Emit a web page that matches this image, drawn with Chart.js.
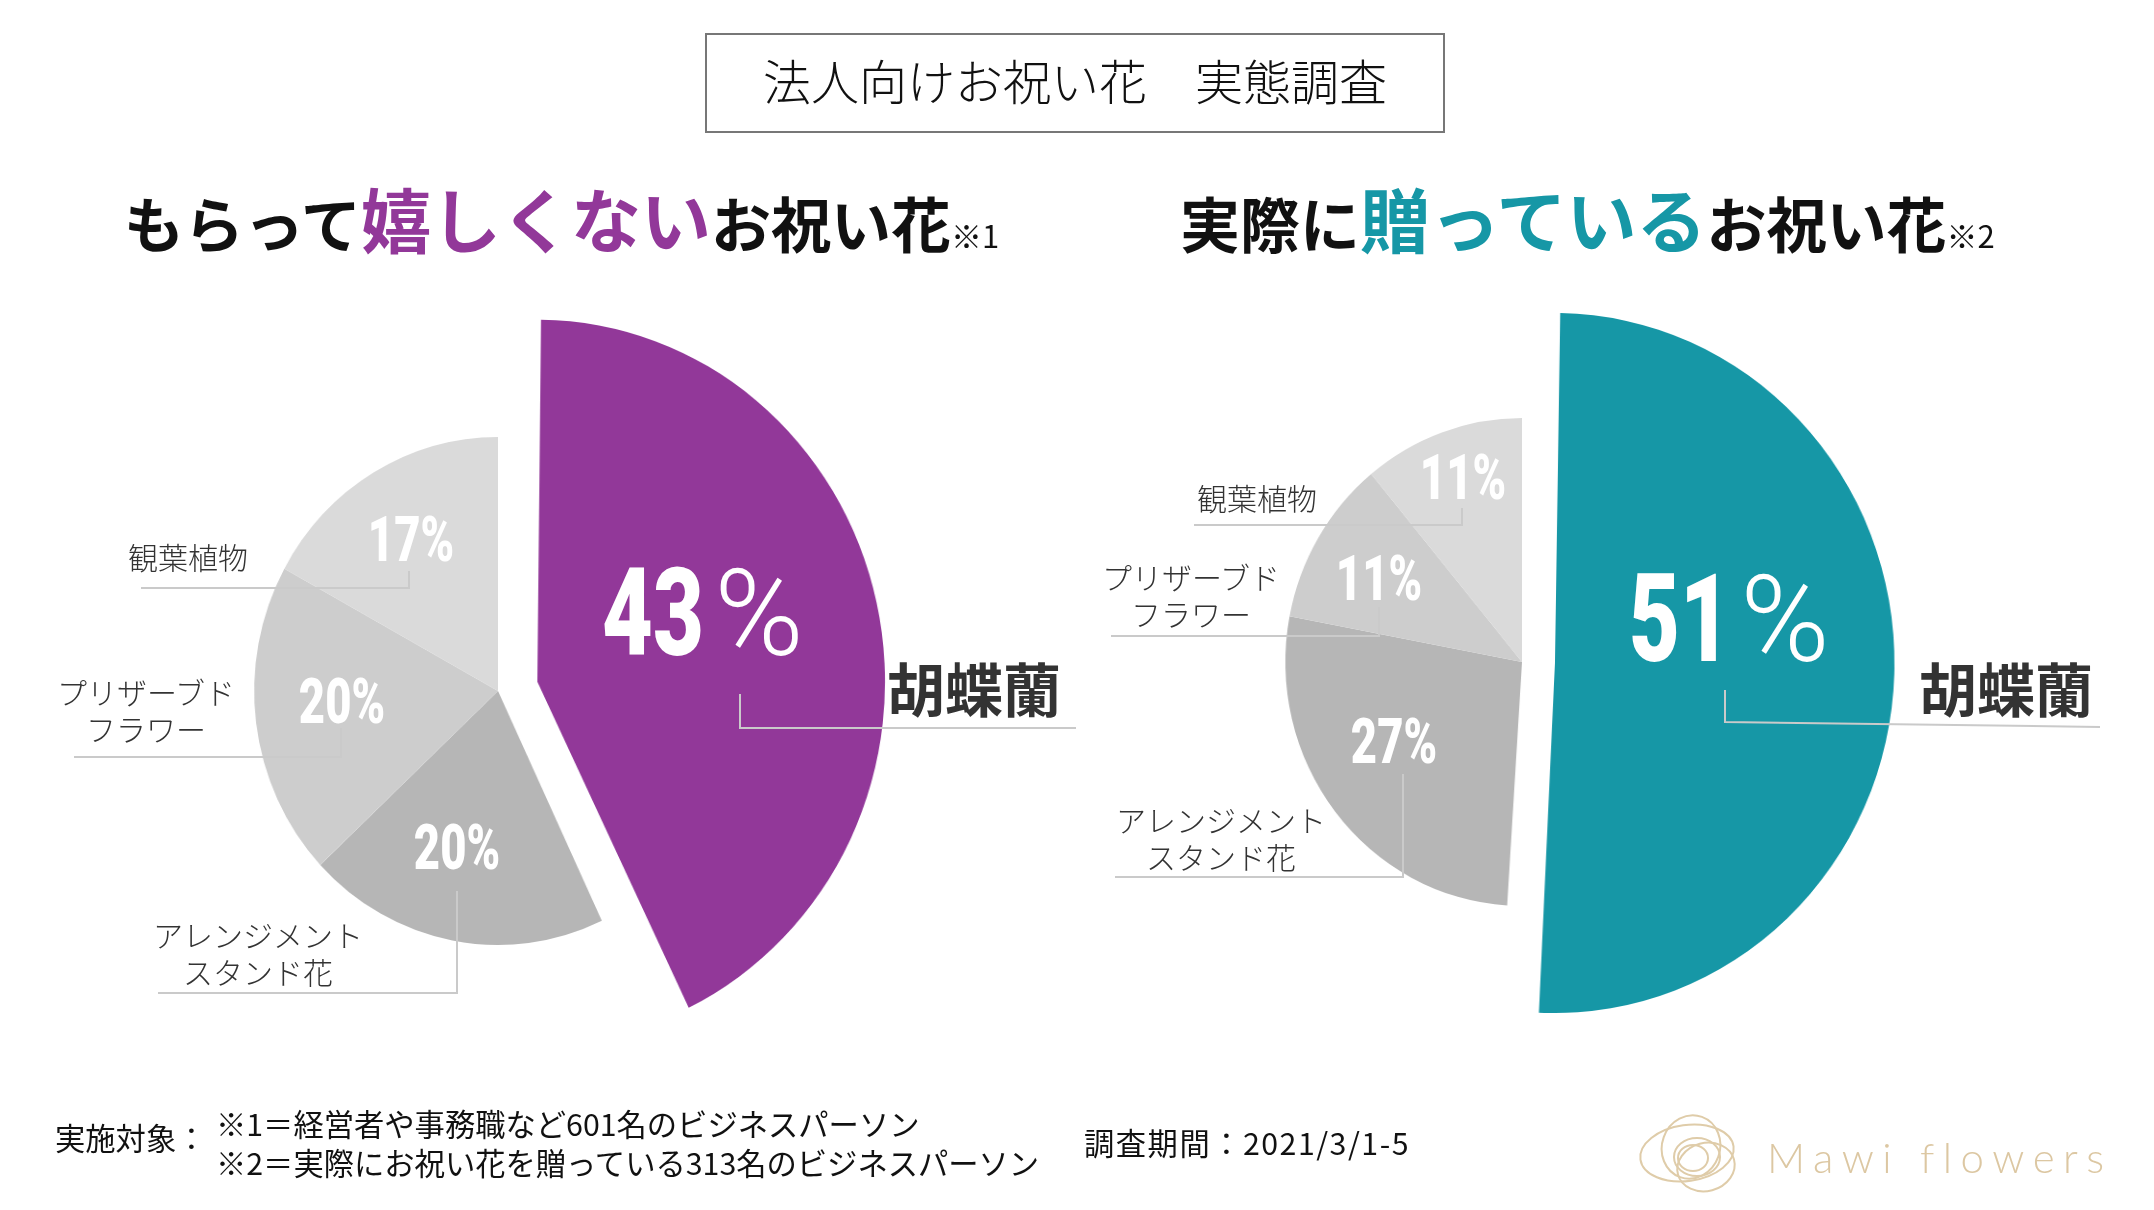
<!DOCTYPE html>
<html lang="ja">
<head>
<meta charset="utf-8">
<title>法人向けお祝い花　実態調査</title>
<script src="https://cdn.jsdelivr.net/npm/chart.js@4.4.1/dist/chart.umd.min.js"></script>
<style>
html, body { margin: 0; padding: 0; background: #fff; }
body { position: relative; width: 2154px; height: 1210px; overflow: hidden;
  font-family: "Noto Sans CJK JP", "Noto Sans", sans-serif; color: #111; }
.abs { position: absolute; white-space: nowrap; line-height: 1; z-index: 3; }
.mid { transform: translate(-50%, -50%); text-align: center; }
.vmid { transform: translateY(-50%); }
#titleBox { left: 705px; top: 33px; width: 740px; height: 100px; box-sizing: border-box;
  border: 2.5px solid #777; display: flex; align-items: center; justify-content: center;
  padding-bottom: 8px; font-size: 48px; font-weight: 300; }
.heading { display: flex; align-items: baseline; font-weight: 700; color: #111; }
.heading .k { font-size: 60px; }
.heading .hi { font-size: 70px; }
.heading .note { font-size: 31px; font-weight: 400; }
canvas.pie { position: absolute; z-index: 1; }
#marks { position: absolute; left: 0; top: 0; z-index: 2; }
.pct { color: #fff; font-family: Roboto, "Noto Sans", sans-serif; font-weight: 900; font-size: 63px; }
.num { color: #fff; font-family: Roboto, "Noto Sans", sans-serif; font-weight: 900; font-size: 122px; }
.sign { color: #fff; font-family: Roboto, "Noto Sans", sans-serif; font-weight: 300; font-size: 121px; }
.cat { color: #333; font-size: 30px; font-weight: 300; line-height: 37px; }
.main { color: #333; font-size: 58px; font-weight: 700; }
.foot { font-size: 30.3px; color: #111; }
.logo { font-family: Lato, "Open Sans", sans-serif; font-weight: 300; font-size: 42px; letter-spacing: 8.5px; color: #dcc7a2; }
</style>
</head>
<body>
<div id="titleBox" class="abs">法人向けお祝い花　実態調査</div>
<div class="abs heading" style="left:124px; top:183px;"><span class="k">もらって</span><span class="hi" style="color:#923899">嬉しくない</span><span class="k">お祝い花</span><span class="note">※1</span></div>
<div class="abs heading" style="left:1180px; top:183px;"><span class="k">実際に</span><span class="hi" style="color:#1697a6">贈っている</span><span class="k">お祝い花</span><span class="note">※2</span></div>

<svg id="marks" width="2154" height="1210" xmlns="http://www.w3.org/2000/svg">
  <g fill="none" stroke="#dfcca9" stroke-width="2">
    <ellipse cx="1687" cy="1153" rx="47" ry="28" transform="rotate(-8 1687 1153)"/>
    <ellipse cx="1691" cy="1147" rx="29" ry="32" transform="rotate(20 1691 1147)"/>
    <ellipse cx="1697" cy="1157" rx="23" ry="19"/>
    <ellipse cx="1706" cy="1167" rx="29" ry="24" transform="rotate(-15 1706 1167)"/>
    <ellipse cx="1693" cy="1158" rx="15" ry="13"/>
  </g>
  <g id="leaders" fill="none" stroke="#cacaca" stroke-width="2"></g>
</svg>

<div class="abs foot vmid" style="left:55px; top:1137px;">実施対象：</div>
<div class="abs foot vmid" style="left:216px; top:1123px;">※1＝経営者や事務職など601名のビジネスパーソン</div>
<div class="abs foot vmid" style="left:216px; top:1162px;">※2＝実際にお祝い花を贈っている313名のビジネスパーソン</div>
<div class="abs foot vmid" style="left:1084px; top:1142px; letter-spacing:1.5px;">調査期間：2021/3/1-5</div>
<div class="abs logo vmid" style="left:1767px; top:1157px;">Mawi flowers</div>

<script>
// データ
const categories = ['胡蝶蘭', 'アレンジメント・スタンド花', 'プリザーブドフラワー', '観葉植物'];
const categoryLines = [['胡蝶蘭'], ['アレンジメント', 'スタンド花'], ['プリザーブド', 'フラワー'], ['観葉植物']];
const unwantedPct = [43, 20, 20, 17];   // ※1 もらって嬉しくないお祝い花
const giftedPct = [51, 27, 11, 11];     // ※2 実際に贈っているお祝い花

const greyColors = ['#b6b6b6', '#cdcdcd', '#dadada'];

// 配置（ラベル・引き出し線）
// offset は Chart.js 側で 1/4 され、さらに半径にも足されるので bigR はその分小さめ
const sides = [
  {
    values: unwantedPct, accent: '#923899',
    center: [498, 691], greyR: 254, bigR: 338, offset: 168, squeeze: 0.96,
    bigNum: [653, 614], bigSign: [759, 614],
    pct: [null, [457, 847], [342, 701], [411, 539]],
    cat: [[974, 687], [258, 953], [146, 710], [188, 556]],
    leader: [
      [[740, 694], [740, 728], [1076, 728]],
      [[457, 891], [457, 993], [158, 993]],
      [[341, 728], [341, 757], [74, 757]],
      [[409, 571], [409, 588], [141, 588]]
    ]
  },
  {
    values: giftedPct, accent: '#1697a6',
    center: [1522, 662], greyR: 244, bigR: 316, offset: 136, squeeze: 0.97,
    bigNum: [1680, 620], bigSign: [1785, 620],
    pct: [null, [1394, 741], [1379, 578], [1463, 477]],
    cat: [[2006, 687], [1221, 838], [1191, 595], [1257, 497]],
    leader: [
      [[1725, 690], [1725, 722], [2100, 727]],
      [[1403, 774], [1403, 877], [1115, 877]],
      [[1379, 607], [1379, 636], [1111, 636]],
      [[1462, 508], [1462, 525], [1194, 525]]
    ]
  }
];

// 先頭スライスだけ半径を大きくする
const bigSlice = {
  id: 'bigSlice',
  afterDatasetsUpdate(chart, args, opts) {
    const arcs = chart.getDatasetMeta(0).data;
    if (arcs.length) arcs[0].outerRadius = opts.radius;
  }
};

function addText(cls, text, x, y) {
  const d = document.createElement('div');
  d.className = 'abs mid ' + cls;
  d.style.left = x + 'px';
  d.style.top = y + 'px';
  d.innerHTML = text;
  document.body.appendChild(d);
  return d;
}

const leaders = document.getElementById('leaders');

sides.forEach(function (s) {
  const size = 900;
  const cv = document.createElement('canvas');
  cv.width = size;
  cv.height = size;
  cv.className = 'pie';
  cv.style.left = (s.center[0] - size / 2) + 'px';
  cv.style.top = (s.center[1] - size / 2) + 'px';
  cv.style.transform = 'scaleX(' + s.squeeze + ')';
  document.body.appendChild(cv);

  new Chart(cv, {
    type: 'pie',
    data: {
      labels: categories,
      datasets: [{
        data: s.values,
        backgroundColor: [s.accent].concat(greyColors),
        borderWidth: 0,
        radius: s.greyR,
        offset: [s.offset, 0, 0, 0]
      }]
    },
    options: {
      responsive: false,
      animation: false,
      events: [],
      layout: { padding: 0 },
      plugins: {
        legend: { display: false },
        tooltip: { enabled: false },
        bigSlice: { radius: s.bigR }
      }
    },
    plugins: [bigSlice]
  });

  // 数値ラベル
  const n = addText('num', String(s.values[0]), s.bigNum[0], s.bigNum[1]);
  n.style.transform = 'translate(-50%, -50%) scaleX(0.72)';
  addText('sign', '%', s.bigSign[0], s.bigSign[1]);
  for (let i = 1; i < s.values.length; i++) {
    const p = addText('pct', s.values[i] + '%', s.pct[i][0], s.pct[i][1]);
    p.style.transform = 'translate(-50%, -50%) scaleX(0.72)';
  }

  // カテゴリ名
  categoryLines.forEach(function (lines, i) {
    addText(i === 0 ? 'main' : 'cat', lines.join('<br>'), s.cat[i][0], s.cat[i][1]);
  });

  // 引き出し線
  s.leader.forEach(function (pts) {
    const pl = document.createElementNS('http://www.w3.org/2000/svg', 'polyline');
    pl.setAttribute('points', pts.map(function (p) { return p.join(','); }).join(' '));
    leaders.appendChild(pl);
  });
});
</script>
</body>
</html>
